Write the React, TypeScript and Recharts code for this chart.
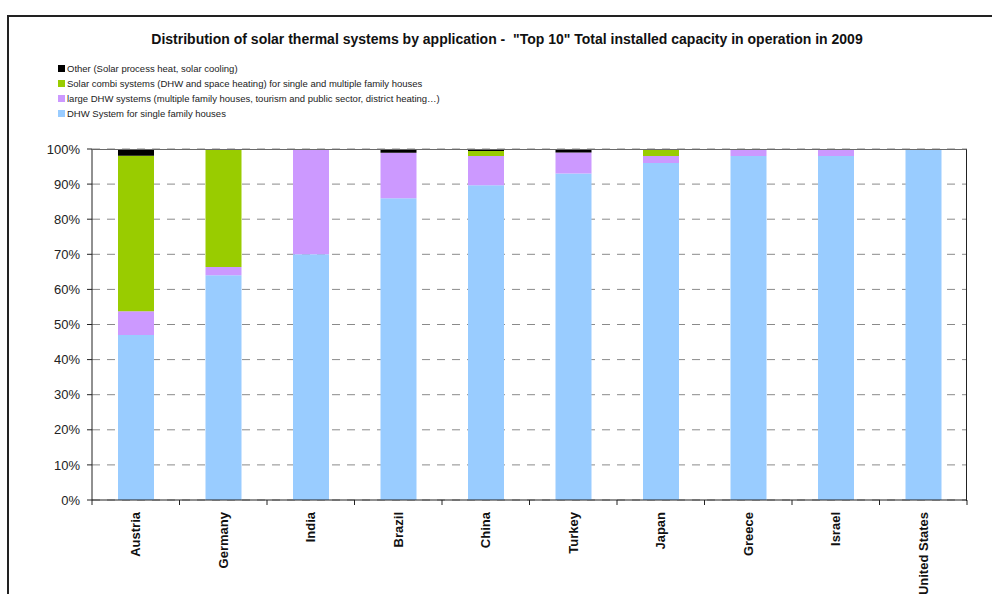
import { BarChart, Bar, XAxis, YAxis, CartesianGrid } from 'recharts';

const countries = ['Austria', 'Germany', 'India', 'Brazil', 'China', 'Turkey', 'Japan', 'Greece', 'Israel', 'United States'];
const dhwSingle = [47, 64, 70, 86, 89.7, 93, 96, 98, 98, 100];
const dhwLarge = [6.8, 2.4, 30, 12.9, 8.3, 6, 2, 2, 2, 0];
const combi = [44.3, 33.6, 0, 0, 1.4, 0, 2, 0, 0, 0];
const other = [1.9, 0, 0, 1.1, 0.6, 1, 0, 0, 0, 0];
const yTicks = [0, 10, 20, 30, 40, 50, 60, 70, 80, 90, 100];

const series = [
  { key: 'dhw', name: 'DHW System for single family houses', color: '#99CCFF' },
  { key: 'large', name: 'large DHW systems (multiple family houses, tourism and public sector, district heating…)', color: '#CC99FF' },
  { key: 'combi', name: 'Solar combi systems (DHW and space heating) for single and multiple family houses', color: '#99CC00' },
  { key: 'other', name: 'Other (Solar process heat, solar cooling)', color: '#000000' },
];

const data = countries.map((c, i) => ({
  name: c,
  dhw: dhwSingle[i],
  large: dhwLarge[i],
  combi: combi[i],
  other: other[i],
}));

const FONT = 'Arial, "Liberation Sans", sans-serif';

function CountryTick(props: any) {
  const { x, y, payload, index } = props;
  const half = payload?.offset ?? 43.75;
  const last = index === countries.length - 1;
  return (
    <g>
      <line x1={x - half} y1={y - 8} x2={x - half} y2={y - 3} stroke="#222" />
      {last && <line x1={x + half} y1={y - 8} x2={x + half} y2={y - 3} stroke="#222" />}
      <text
        x={x}
        y={y + 4}
        transform={`rotate(-90, ${x}, ${y + 4})`}
        textAnchor="end"
        dy="0.35em"
        fontSize={13}
        fontWeight="bold"
        fontFamily={FONT}
        fill="#111"
      >
        {payload.value}
      </text>
    </g>
  );
}

export default function App() {
  const legendItems = [...series].reverse();
  return (
    <div style={{ position: 'absolute', left: 0, top: 0, width: 992, height: 594, overflow: 'hidden', background: '#fff', fontFamily: FONT }}>
      <div style={{ position: 'absolute', left: 7, top: 15, width: 1000, height: 600, borderLeft: '2px solid #222', borderTop: '2px solid #222' }} />
      <div style={{ position: 'absolute', left: 0, width: 1014, top: 31, textAlign: 'center', fontSize: 14, fontWeight: 'bold', color: '#111', whiteSpace: 'pre' }}>
        {'Distribution of solar thermal systems by application -  "Top 10" Total installed capacity in operation in 2009'}
      </div>
      <div style={{ position: 'absolute', left: 58, top: 61 }}>
        {legendItems.map((s) => (
          <div key={s.key} style={{ display: 'flex', alignItems: 'center', height: 15, fontSize: 9.5, color: '#222' }}>
            <span style={{ display: 'inline-block', width: 7, height: 7, background: s.color, marginRight: 2 }} />
            {s.name}
          </div>
        ))}
      </div>
      <div style={{ position: 'absolute', left: 0, top: 0 }}>
        <BarChart width={992} height={594} data={data} margin={{ top: 149, right: 25, bottom: 0, left: 32 }} barSize={36}>
          <CartesianGrid vertical={false} stroke="#8a8a8a" strokeDasharray="8 7" />
          <XAxis
            dataKey="name"
            height={94}
            tickLine={false}
            axisLine={{ stroke: '#222' }}
            tick={<CountryTick />}
            interval={0}
          />
          <YAxis
            width={60}
            domain={[0, 100]}
            ticks={yTicks}
            tickFormatter={(v: number) => `${v}%`}
            tickSize={5}
            tickMargin={7}
            axisLine={{ stroke: '#222' }}
            tickLine={{ stroke: '#222' }}
            tick={{ fontSize: 13, fill: '#222', fontFamily: FONT }}
          />
          {series.map((s) => (
            <Bar key={s.key} dataKey={s.key} name={s.name} stackId="a" fill={s.color} isAnimationActive={false} />
          ))}
        </BarChart>
      </div>
      <div style={{ position: 'absolute', left: 92, top: 148.5, width: 874, height: 351, borderTop: '1px solid #6a6a6a', borderRight: '1.5px solid #222', pointerEvents: 'none' }} />
    </div>
  );
}
